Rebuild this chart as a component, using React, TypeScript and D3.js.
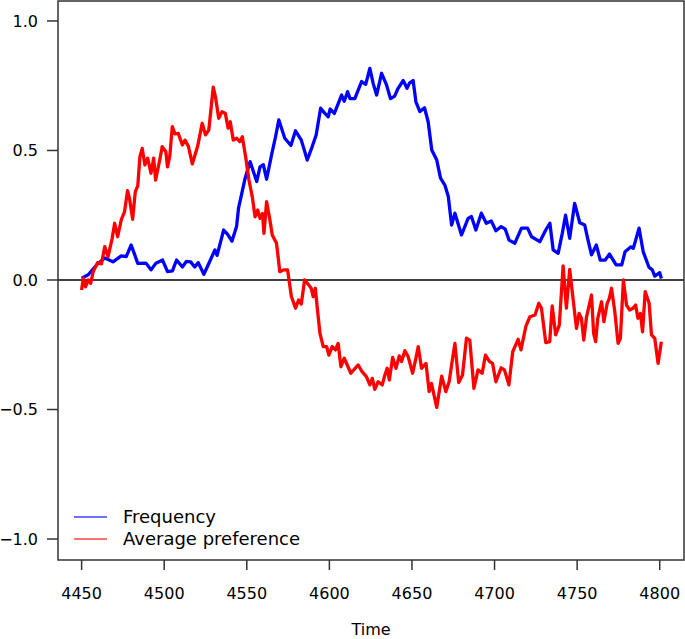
import { useEffect, useRef } from "react";
import * as d3 from "d3";

// frequency series (blue)
const freqTime = [
  4450, 4454, 4459, 4464, 4469, 4474, 4477, 4480, 4482, 4484, 4489, 4492, 4495, 4499, 4502, 4505,
  4507.5, 4511, 4513.5, 4516, 4518.5, 4520.6, 4524, 4526.6, 4530.7, 4532, 4536, 4538.5, 4541, 4543.8,
  4545, 4549, 4552, 4556, 4558, 4560, 4562, 4565, 4567.4, 4569.4, 4573, 4576.7, 4579.5, 4583, 4586.6,
  4589.6, 4592, 4594.7, 4597, 4599.3, 4600.5, 4603, 4607.4, 4609, 4611, 4612.5, 4615.4, 4619.5, 4622,
  4624.5, 4626.5, 4628.6, 4631.6, 4634.6, 4637, 4639.5, 4641.6, 4644.7, 4647, 4648.5, 4650.7, 4652.4,
  4654.8, 4657.6, 4659.8, 4662, 4665, 4667.3, 4670, 4672, 4674, 4676, 4680, 4684, 4686, 4688.7, 4692,
  4695, 4698, 4700.8, 4704, 4706.5, 4708.8, 4712.3, 4716.3, 4720, 4722.4, 4727.4, 4731, 4733.5, 4735.5,
  4738.5, 4741, 4743, 4745.5, 4748.5, 4751.6, 4754.6, 4756.6, 4758.7, 4761.6, 4764, 4767, 4769.6,
  4773.6, 4777, 4779, 4782.6, 4784, 4787.5, 4790, 4793.5, 4795.5, 4797, 4800, 4801,
];
const freqValue = [
  0.007, 0.02, 0.058, 0.085, 0.07, 0.093, 0.09, 0.135, 0.1, 0.064, 0.065, 0.039, 0.065, 0.077, 0.032, 0.035,
  0.077, 0.05, 0.072, 0.07, 0.05, 0.067, 0.022, 0.058, 0.116, 0.095, 0.193, 0.175, 0.15, 0.206,
  0.277, 0.393, 0.457, 0.38, 0.437, 0.445, 0.389, 0.483, 0.553, 0.618, 0.547, 0.519, 0.576, 0.54, 0.463,
  0.515, 0.56, 0.663, 0.645, 0.63, 0.66, 0.643, 0.714, 0.69, 0.727, 0.7, 0.7, 0.766, 0.755,
  0.817, 0.759, 0.714, 0.798, 0.753, 0.7, 0.71, 0.74, 0.77, 0.74, 0.76, 0.77, 0.688,
  0.65, 0.665, 0.611, 0.502, 0.463, 0.393, 0.365, 0.322, 0.212, 0.258, 0.174, 0.238, 0.245, 0.193, 0.258,
  0.219, 0.228, 0.19, 0.206, 0.196, 0.154, 0.142, 0.2, 0.2, 0.167, 0.148, 0.193, 0.219, 0.116,
  0.103, 0.18, 0.25, 0.161, 0.296, 0.221, 0.212, 0.154, 0.097, 0.135, 0.077, 0.077, 0.1,
  0.058, 0.058, 0.109, 0.128, 0.122, 0.2, 0.109, 0.049, 0.039, 0.015, 0.028, 0.006,
];

// average preference series (red)
const prefTime = [
  4450, 4451, 4452.4, 4454, 4455.5, 4457, 4459.7, 4462, 4464, 4466, 4468.5, 4470, 4471.8, 4474, 4476,
  4477.8, 4479, 4480.9, 4482.5, 4484, 4485.3, 4486.7, 4488.3, 4490, 4492, 4493.6, 4494.8, 4497.5,
  4498.8, 4501, 4502, 4503.4, 4504.9, 4506.5, 4508.5, 4511, 4512.6, 4514.7, 4517, 4520.2, 4523, 4525,
  4527, 4529.7, 4531, 4533, 4535, 4537, 4538.7, 4540, 4541.8, 4543.9, 4545.8, 4547.3, 4549.3, 4551.3,
  4553.3, 4555, 4556.6, 4558, 4559.5, 4560.4, 4562, 4564, 4565.4, 4568, 4570, 4572.3, 4574.7, 4577,
  4579.5, 4581.4, 4583, 4585, 4587, 4589, 4590.2, 4591.5, 4592.8, 4594.3, 4596.3, 4598.3, 4599.7,
  4601.7, 4603.7, 4605.3, 4607, 4609, 4613, 4617.4, 4619.8, 4622.4, 4624.5, 4626, 4627.5, 4629.5,
  4632, 4633.6, 4635, 4636.3, 4638.3, 4640.3, 4642.3, 4643.7, 4645.7, 4647.7, 4650.4, 4652.4, 4653.8,
  4655.8, 4658.5, 4660.4, 4661.8, 4665, 4668, 4670.5, 4672.5, 4674, 4676, 4678.3, 4680.6, 4683, 4685,
  4687.5, 4690, 4692.5, 4694.5, 4697, 4698.8, 4700.8, 4704, 4706, 4708.7, 4711, 4714.3, 4716, 4719,
  4721.4, 4724.5, 4726.8, 4728.4, 4731, 4733.4, 4734.9, 4737, 4739.2, 4741.5, 4743.5, 4745.5, 4747.5,
  4749.6, 4751.2, 4752.6, 4754, 4755.7, 4758.7, 4760, 4761.2, 4762.5, 4764.8, 4766.2, 4768.2, 4769.5,
  4770.8, 4772.8, 4774.8, 4776.2, 4778, 4779.9, 4781.8, 4783.8, 4785.4, 4786.8, 4788.3, 4789.6, 4791.2,
  4793.6, 4795, 4797, 4799, 4801,
];
const prefValue = [
  -0.039, 0.007, -0.026, 0.0, -0.013, 0.032, 0.067, 0.062, 0.129, 0.09, 0.161, 0.219, 0.167, 0.232, 0.264,
  0.345, 0.315, 0.234, 0.341, 0.363, 0.476, 0.508, 0.444, 0.47, 0.412, 0.47, 0.386, 0.47,
  0.515, 0.495, 0.437, 0.479, 0.592, 0.564, 0.566, 0.521, 0.54, 0.515, 0.448, 0.515, 0.605, 0.56,
  0.579, 0.744, 0.708, 0.624, 0.65, 0.643, 0.586, 0.611, 0.54, 0.547, 0.534, 0.553, 0.476, 0.386,
  0.322, 0.244, 0.27, 0.238, 0.257, 0.18, 0.302, 0.232, 0.174, 0.142, 0.032, 0.039, 0.039, -0.064,
  -0.109, -0.077, -0.093, 0.0, -0.015, -0.032, -0.064, -0.032, -0.116, -0.206, -0.257, -0.257, -0.29,
  -0.257, -0.27, -0.245, -0.335, -0.302, -0.36, -0.328, -0.354, -0.373, -0.405, -0.38, -0.422, -0.393,
  -0.405, -0.367, -0.341, -0.386, -0.299, -0.341, -0.293, -0.315, -0.273, -0.296, -0.36, -0.302, -0.257,
  -0.341, -0.322, -0.431, -0.399, -0.492, -0.371, -0.431, -0.393, -0.328, -0.245, -0.396, -0.367, -0.225, -0.232,
  -0.418, -0.347, -0.36, -0.29, -0.315, -0.322, -0.393, -0.339, -0.347, -0.405, -0.277, -0.229, -0.27, -0.178,
  -0.142, -0.135, -0.09, -0.109, -0.242, -0.238, -0.1, -0.212, -0.174, 0.054, -0.109, 0.041, -0.071,
  -0.187, -0.129, -0.148, -0.232, -0.142, -0.058, -0.206, -0.238, -0.148, -0.084, -0.161, -0.09, -0.071,
  -0.032, -0.122, -0.245, -0.225, 0.0, -0.097, -0.116, -0.109, -0.097, -0.148, -0.129, -0.2, -0.045,
  -0.09, -0.212, -0.225, -0.322, -0.238,
];

const xTicks = [4450, 4500, 4550, 4600, 4650, 4700, 4750, 4800];
const yTicks = [-1.0, -0.5, 0.0, 0.5, 1.0];

const seriesNames = ["Frequency", "Average preference"];
const seriesColors = ["#0000ff", "#ff0000"];

const W = 685;
const H = 639;
const left = 58;
const right = 684;
const top = 1;
const bottom = 560;
const font = "DejaVu Sans, sans-serif";
const spine = "#333333";

const App = () => {
  const svgRef = useRef<SVGSVGElement | null>(null);

  useEffect(() => {
    if (!svgRef.current) return;
    const svg = d3.select(svgRef.current);
    svg.selectAll("*").remove();

    const x = d3.scaleLinear().domain([4435.7, 4814.7]).range([left, right]);
    const y = d3.scaleLinear().domain([-1.081, 1.077]).range([bottom, top]);

    const line = d3
      .line<[number, number]>()
      .x((d) => x(d[0]))
      .y((d) => y(d[1]));

    const freq: [number, number][] = freqTime.map((t, i) => [t, freqValue[i]]);
    const pref: [number, number][] = prefTime.map((t, i) => [t, prefValue[i]]);

    // zero line
    svg
      .append("line")
      .attr("x1", left)
      .attr("x2", right)
      .attr("y1", y(0))
      .attr("y2", y(0))
      .attr("stroke", "#000")
      .attr("stroke-width", 1.5);

    [freq, pref].forEach((data, i) => {
      svg
        .append("path")
        .attr("d", line(data))
        .attr("fill", "none")
        .attr("stroke", seriesColors[i])
        .attr("stroke-width", 3.3)
        .attr("stroke-linejoin", "round");
    });

    // frame
    svg
      .append("rect")
      .attr("x", left)
      .attr("y", top)
      .attr("width", right - left)
      .attr("height", bottom - top)
      .attr("fill", "none")
      .attr("stroke", spine)
      .attr("stroke-width", 1.5);

    // x ticks
    const xg = svg.append("g");
    xTicks.forEach((t) => {
      xg.append("line")
        .attr("x1", x(t))
        .attr("x2", x(t))
        .attr("y1", bottom)
        .attr("y2", bottom + 10)
        .attr("stroke", spine)
        .attr("stroke-width", 1.5);
      xg.append("text")
        .attr("x", x(t))
        .attr("y", 599)
        .attr("text-anchor", "middle")
        .attr("font-family", font)
        .attr("font-size", 16)
        .text(String(t));
    });

    // y ticks
    const yg = svg.append("g");
    yTicks.forEach((v) => {
      yg.append("line")
        .attr("x1", left - 11)
        .attr("x2", left)
        .attr("y1", y(v))
        .attr("y2", y(v))
        .attr("stroke", spine)
        .attr("stroke-width", 1.5);
      yg.append("text")
        .attr("x", 38)
        .attr("y", y(v))
        .attr("dy", "0.36em")
        .attr("text-anchor", "end")
        .attr("font-family", font)
        .attr("font-size", 16)
        .text(d3.format(".1f")(v).replace("-", "\u2212"));
    });

    svg
      .append("text")
      .attr("x", (left + right) / 2)
      .attr("y", 635)
      .attr("text-anchor", "middle")
      .attr("font-family", font)
      .attr("font-size", 16)
      .text("Time");

    // legend
    const lg = svg.append("g");
    seriesNames.forEach((name, i) => {
      const ly = 517 + i * 22;
      lg.append("line")
        .attr("x1", 74)
        .attr("x2", 107)
        .attr("y1", ly)
        .attr("y2", ly)
        .attr("stroke", seriesColors[i])
        .attr("stroke-opacity", 0.75)
        .attr("stroke-width", 1.5);
      lg.append("text")
        .attr("x", 123)
        .attr("y", ly)
        .attr("dy", "0.36em")
        .attr("font-family", font)
        .attr("font-size", 18)
        .text(name);
    });
  }, []);

  return (
    <svg
      ref={svgRef}
      width={W}
      height={H}
      style={{ position: "absolute", left: 0, top: 0, background: "#fff" }}
    ></svg>
  );
};

export default App;
